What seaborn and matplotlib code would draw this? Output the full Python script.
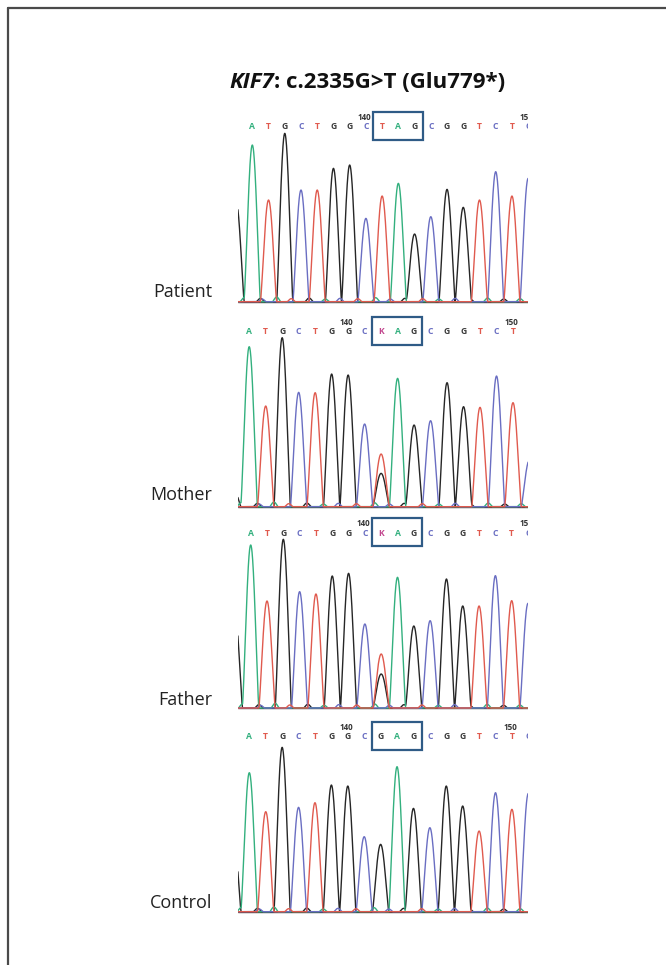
import numpy as np
import pandas as pd
import matplotlib
matplotlib.use("Agg")
import matplotlib.pyplot as plt
import seaborn as sns
from matplotlib.patches import Rectangle
from matplotlib.lines import Line2D

sns.set_theme(style="white")
plt.rcParams['font.family'] = ['Open Sans', 'DejaVu Sans']

# ---------------- data ----------------
SAMPLES = ["Patient", "Mother", "Father", "Control"]
TITLE_GENE = "KIF7"
TITLE_REST = ": c.2335G>T (Glu779*)"

# base calls printed above each trace (positions 1..n)
PATIENT_CALLS = list("ATGCTGGCTAGCGGTCTC")
MOTHER_CALLS = list("ATGCTGGCKAGCGGTCT")
FATHER_CALLS = list("ATGCTGGCKAGCGGTCTC")
CONTROL_CALLS = list("ATGCTGGCGAGCGGTCTC")

# dominant trace channel for positions 0..18
PATIENT_TRACE = list("GATGCTGGCTAGCGGTCTC")
MOTHER_TRACE = list("GATGCTGGCTAGCGGTCTC")
FATHER_TRACE = list("GATGCTGGCTAGCGGTCTC")
CONTROL_TRACE = list("GATGCTGGCGAGCGGTCTC")

# peak heights (arbitrary signal units) for positions 0..18
PATIENT_HEIGHTS = [300, 470, 305, 505, 335, 335, 400, 410, 250, 317, 355, 203, 255, 337, 283, 305, 390, 317, 370]
MOTHER_HEIGHTS = [60, 480, 302, 507, 343, 342, 398, 395, 248, 158, 385, 245, 258, 372, 300, 298, 392, 312, 140]
FATHER_HEIGHTS = [300, 489, 321, 506, 349, 342, 396, 404, 252, 162, 392, 246, 262, 387, 306, 306, 397, 322, 314]
CONTROL_HEIGHTS = [245, 417, 300, 493, 313, 327, 380, 377, 225, 202, 435, 310, 252, 377, 317, 242, 357, 307, 355]

# secondary (heterozygous) peaks: position, channel, height
PATIENT_SECOND = []
MOTHER_SECOND = [(9, "G", 100)]
FATHER_SECOND = [(9, "G", 102)]
CONTROL_SECOND = []

# small background bumps: position, channel, height
NOISE = [(0.5, "A", 12), (1.5, "G", 10), (1.6, "C", 8), (2.5, "A", 14), (3.4, "T", 9),
         (4.5, "G", 11), (5.5, "A", 8), (6.4, "C", 10), (7.5, "T", 9), (8.6, "A", 12),
         (9.5, "C", 8), (10.4, "G", 10), (11.5, "T", 9), (12.5, "A", 8), (13.5, "C", 10),
         (14.4, "G", 9), (15.5, "A", 11), (16.5, "G", 8), (17.5, "A", 9)]

# numbering labels: position -> text
PATIENT_NUMS = {8: "140", 18: "150"}
MOTHER_NUMS = {7: "140", 17: "150"}
FATHER_NUMS = {8: "140", 18: "150"}
CONTROL_NUMS = {7: "140", 17: "150"}

# codon box (positions)
BOX_START, BOX_END = 8.45, 11.5

# ---------------- style ----------------
TRACE_COLORS = {"A": "#33b07e", "C": "#6a6ec2", "G": "#262626", "T": "#e05a4e"}
CALL_COLORS = {"A": "#33b07e", "C": "#6a6ec2", "G": "#3a3a3a", "T": "#e05a4e", "K": "#c2468e"}
BOX_COLOR = "#2f5b86"

W, H = 666, 965
AX_LEFT_PX, AX_RIGHT_PX = 238, 528
BASELINES_PX = [301.7, 506.7, 708.0, 911.7]
LABEL_Y_PX = [291.7, 495.0, 700.0, 903.0]
XLIMS = [(0.118, 17.99), (0.32, 17.91), (0.222, 18.0), (0.31, 17.98)]
HALF_WIDTH = 0.5
SHAPE_EXP = 1.3


def peak_shape(d, w, e):
    inside = np.abs(d) < w
    out = np.zeros_like(d)
    out[inside] = np.cos(np.pi * d[inside] / (2 * w)) ** e
    return out


panels = [
    (PATIENT_CALLS, PATIENT_TRACE, PATIENT_HEIGHTS, PATIENT_SECOND, PATIENT_NUMS),
    (MOTHER_CALLS, MOTHER_TRACE, MOTHER_HEIGHTS, MOTHER_SECOND, MOTHER_NUMS),
    (FATHER_CALLS, FATHER_TRACE, FATHER_HEIGHTS, FATHER_SECOND, FATHER_NUMS),
    (CONTROL_CALLS, CONTROL_TRACE, CONTROL_HEIGHTS, CONTROL_SECOND, CONTROL_NUMS),
]

fig = plt.figure(figsize=(W / 100, H / 100), dpi=100)
fig.patch.set_facecolor("white")

# frame lines
fig.add_artist(Line2D([8 / W, 1.0], [1 - 8 / H, 1 - 8 / H], transform=fig.transFigure,
                      color="#4a4a4a", lw=1.6))
fig.add_artist(Line2D([8 / W, 8 / W], [0.0, 1 - 8 / H], transform=fig.transFigure,
                      color="#4a4a4a", lw=1.6))

# title
fig.text(274 / W, 1 - 82 / H, TITLE_GENE, ha="right", va="center", fontsize=16,
         fontweight="bold", fontstyle="italic", color="#111111")
fig.text(274 / W, 1 - 82 / H, TITLE_REST, ha="left", va="center", fontsize=16,
         fontweight="bold", color="#111111")

for i, (calls, trace, heights, second, nums) in enumerate(panels):
    b = BASELINES_PX[i]
    ax = fig.add_axes([AX_LEFT_PX / W, 1 - (b + 3) / H,
                       (AX_RIGHT_PX - AX_LEFT_PX) / W, 198 / H])
    xl, xr = XLIMS[i]
    x = np.linspace(xl - 0.05, xr + 0.05, 2000)
    peaks = [(p, ch, h) for p, (ch, h) in enumerate(zip(trace, heights))] + list(second) + NOISE
    rows = []
    for ch in ["G", "A", "C", "T"]:
        sig = np.zeros_like(x)
        for p, c, h in peaks:
            if c == ch:
                w = HALF_WIDTH if h > 50 else 0.25
                sig += h * peak_shape(x - p, w, SHAPE_EXP)
        rows.append(pd.DataFrame({"x": x, "signal": sig, "base": ch}))
    df = pd.concat(rows, ignore_index=True)
    ax.axhline(0, color="#444444", lw=1.0, zorder=1)
    sns.lineplot(data=df, x="x", y="signal", hue="base", palette=TRACE_COLORS,
                 hue_order=["G", "A", "C", "T"], estimator=None, legend=False,
                 linewidth=1.0, ax=ax, zorder=2)
    ax.set_xlim(xl, xr)
    ax.set_ylim(-9, 585)
    ax.set_axis_off()

    for p, c in enumerate(calls, start=1):
        ax.text(p, 525, c, ha="center", va="center", fontsize=6.2, fontweight="bold",
                color=CALL_COLORS[c], clip_on=True)
    for p, t in nums.items():
        ax.text(p - 0.1, 552, t, ha="center", va="center", fontsize=5.8, fontweight="bold",
                color="#333333", clip_on=True)
    ax.add_patch(Rectangle((BOX_START, 486), BOX_END - BOX_START, 84, fill=False,
                           edgecolor=BOX_COLOR, lw=1.6, zorder=5))

    fig.text(212 / W, 1 - LABEL_Y_PX[i] / H, SAMPLES[i], ha="right", va="center",
             fontsize=13, color="#222222")

fig.savefig("out.png", dpi=100, facecolor="white")
